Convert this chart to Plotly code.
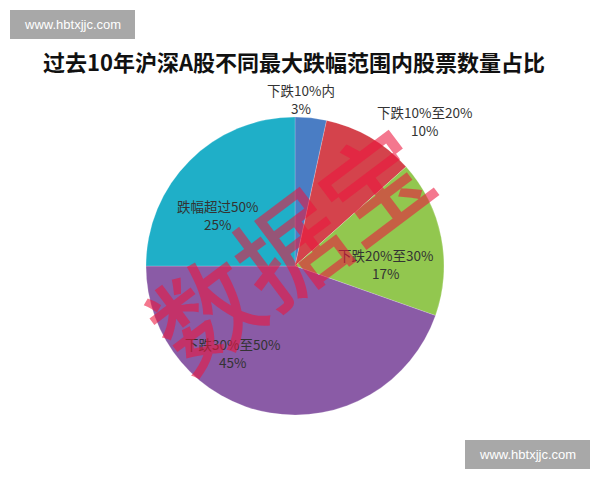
import plotly.graph_objects as go

# ---- data ----
categories = ["下跌10%内", "下跌10%至20%", "下跌20%至30%", "下跌30%至50%", "跌幅超过50%"]
values = [3.4, 10.0, 17.0, 44.6, 25.0]
colors = ["#4A7DC4", "#D4434C", "#92C74F", "#8A5BA6", "#1FAFC8"]
title_text = "过去10年沪深A股不同最大跌幅范围内股票数量占比"
site_text = "www.hbtxjjc.com"
stamp_text = "数据宝"

W, H = 600, 480

def px(x):
    return x / W

def py(y):
    return 1 - y / H

# pie placement (pixels): center and radius
cx, cy, r = 295, 266, 149

fig = go.Figure(go.Pie(
    labels=categories,
    values=values,
    marker=dict(colors=colors, line=dict(color="rgba(255,255,255,0.4)", width=0.5)),
    sort=False,
    direction="clockwise",
    rotation=0,
    textinfo="none",
    hoverinfo="label+percent",
    showlegend=False,
    domain=dict(x=[px(cx - r), px(cx + r)], y=[py(cy + r), py(cy - r)]),
))

total = sum(values)
pcts = [round(v / total * 100) for v in values]

# label anchor centres (pixels)
label_pos = [(301, 99), (424, 121), (385, 264), (233, 353), (217, 215)]
ann = []
for name, p, (lx, ly) in zip(categories, pcts, label_pos):
    ann.append(dict(
        x=px(lx), y=py(ly), xref="paper", yref="paper",
        text=f"{name}<br>{p}%", showarrow=False,
        xanchor="center", yanchor="middle", align="center",
        font=dict(family="Noto Sans CJK SC", size=13.5, color="#333333"),
    ))

# title
ann.append(dict(
    x=px(294), y=py(61), xref="paper", yref="paper",
    text=f"<b>{title_text}</b>", showarrow=False,
    xanchor="center", yanchor="middle",
    font=dict(family="Noto Sans CJK SC", size=22, color="#111111"),
))

# stamp watermark
ann.append(dict(
    x=px(287), y=py(245), xref="paper", yref="paper",
    text=stamp_text, showarrow=False,
    xanchor="center", yanchor="middle", textangle=-37,
    font=dict(family="Noto Sans CJK SC", size=106, weight=500,
              color="rgba(236,20,60,0.58)"),
))

# site watermark boxes
shapes = []
for (x0, y0, x1, y1) in [(10, 10, 135, 39), (465, 440, 590, 469)]:
    shapes.append(dict(type="rect", xref="paper", yref="paper",
                       x0=px(x0), x1=px(x1), y0=py(y1), y1=py(y0),
                       fillcolor="#A8A8A8", line=dict(width=0), layer="above"))
    ann.append(dict(
        x=px((x0 + x1) / 2), y=py((y0 + y1) / 2), xref="paper", yref="paper",
        text=site_text, showarrow=False, xanchor="center", yanchor="middle",
        font=dict(family="Liberation Sans", size=13, color="#FFFFFF"),
    ))

fig.update_layout(
    width=W, height=H,
    margin=dict(l=0, r=0, t=0, b=0),
    paper_bgcolor="#FFFFFF",
    plot_bgcolor="#FFFFFF",
    annotations=ann,
    shapes=shapes,
)

fig.write_html("out.html")
